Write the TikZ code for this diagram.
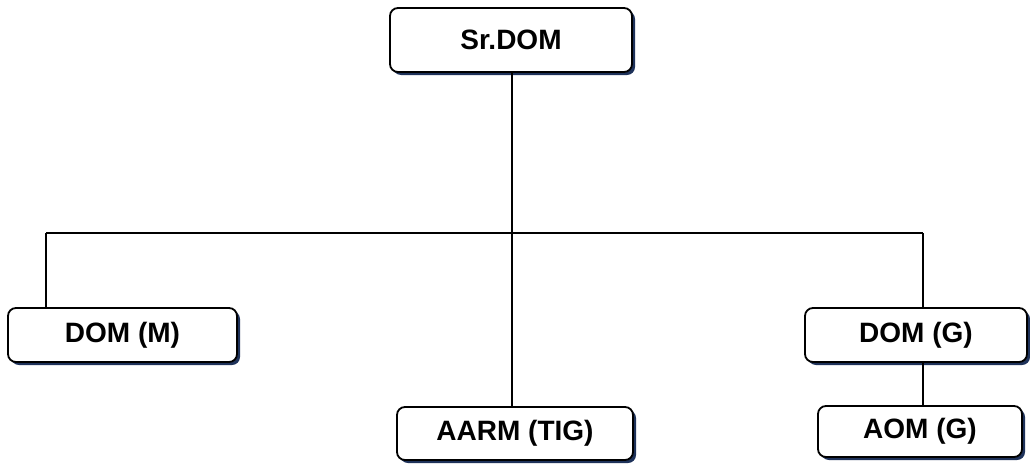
\documentclass[tikz,border=0pt]{standalone}
\usepackage{fontspec}
\setmainfont{Liberation Sans}
\usetikzlibrary{shadows}
\definecolor{shadownavy}{RGB}{30,50,90}
\tikzset{
  x=1pt, y=-1pt,
  unit/.style={draw=black, line width=1.8pt, fill=white, rounded corners=8pt,
    drop shadow={shadow xshift=3pt, shadow yshift=-3pt, fill=shadownavy, opacity=1},
    font=\fontsize{28}{32}\selectfont\bfseries, inner sep=0pt},
  link/.style={draw=black, line width=1.3pt}
}
\begin{document}
\begin{tikzpicture}
  \useasboundingbox (0,0) rectangle (1030,463);
  % rank boxes, sized by their outlines
  \node[unit, minimum width=242pt, minimum height=64pt] (sr) at (511,40) {Sr.DOM};
  \node[unit, minimum width=229pt, minimum height=54pt] (domm) at (122.5,335) {DOM (M)};
  \node[unit, minimum width=236pt, minimum height=53pt] (aarm) at (515,433.5) {AARM (TIG)};
  \node[unit, minimum width=222pt, minimum height=54pt] (domg) at (916,335) {DOM (G)};
  \node[unit, minimum width=204pt, minimum height=51pt] (aomg) at (920,431.5) {AOM (G)};
  % branching bar
  \coordinate (bar) at (512,233);
  \coordinate (barl) at (46,233);
  \coordinate (barr) at (923,233);
  \draw[link] (sr.south -| bar) -- (bar);
  \draw[link] (barl) -- (barr);
  \draw[link] (barl) -- (barl |- domm.north);
  \draw[link] (bar) -- (bar |- aarm.north);
  \draw[link] (barr) -- (barr |- domg.north);
  \draw[link] (domg.south -| barr) -- (barr |- aomg.north);
\end{tikzpicture}
\end{document}
